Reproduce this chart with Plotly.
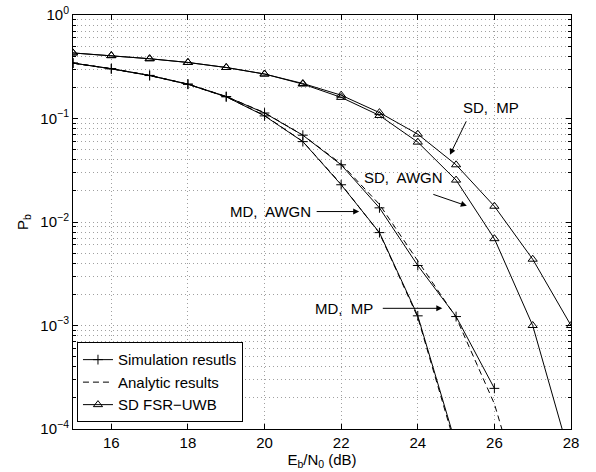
import plotly.graph_objects as go

# ---------------- data ----------------
ebn0_sd = [15, 16, 17, 18, 19, 20, 21, 22, 23, 24, 25, 26, 27, 28]
sd_mp = [0.43, 0.405, 0.378, 0.348, 0.311, 0.269, 0.218, 0.168, 0.114, 0.0706, 0.0357, 0.0142, 0.00437, 0.001]
sd_awgn = [0.43, 0.405, 0.378, 0.348, 0.311, 0.269, 0.215, 0.160, 0.107, 0.0591, 0.0254, 0.0069, 0.001, 0.00005]

ebn0_md_mp = [15, 16, 17, 18, 19, 20, 21, 22, 23, 24, 25, 26]
md_mp_sim = [0.343, 0.303, 0.261, 0.215, 0.163, 0.113, 0.069, 0.0357, 0.0137, 0.0038, 0.00122, 0.000247]
ebn0_md_awgn = [15, 16, 17, 18, 19, 20, 21, 22, 23, 24, 25]
md_awgn_sim = [0.343, 0.302, 0.260, 0.214, 0.162, 0.106, 0.0598, 0.0229, 0.0079, 0.00124, 0.00007]

ebn0_an = [15, 16, 17, 18, 19, 20, 21, 22, 23, 24, 25, 26, 27]
md_mp_an = [0.343, 0.303, 0.261, 0.215, 0.163, 0.114, 0.069, 0.0365, 0.0148, 0.0042, 0.0012, 0.000175, 0.00001]
md_awgn_an = [0.343, 0.302, 0.260, 0.214, 0.162, 0.107, 0.060, 0.0232, 0.0078, 0.0012, 0.000065, 0.000001, 0.0000001]

xticks = [16, 18, 20, 22, 24, 26, 28]
yticks = [1e-4, 1e-3, 1e-2, 1e-1, 1e0]
ytick_text = ["10<sup>−4</sup>", "10<sup>−3</sup>", "10<sup>−2</sup>", "10<sup>−1</sup>", "10<sup>0</sup>"]

# annotation labels: (text, x, log10 y)
labels = [("SD,  MP", 25.9, -0.892), ("SD,  AWGN", 23.63, -1.574),
          ("MD,  AWGN", 20.15, -1.899), ("MD,  MP", 22.08, -2.834)]
# arrows: (x head, log10 y head, dx tail px, dy tail px)
arrows = [(24.84, -1.351, 17, -35), (25.28, -1.844, -35, -12),
          (22.47, -1.899, -44, 0), (24.64, -2.834, -61, 0)]

FONT = "Liberation Sans, Arial, sans-serif"
BLACK = "black"

fig = go.Figure()

sim_marker = dict(symbol="cross-thin", size=7, line=dict(width=1, color=BLACK), color=BLACK)
tri_marker = dict(symbol="triangle-up-open", size=8, line=dict(width=1, color=BLACK), color=BLACK)

fig.add_trace(go.Scatter(x=ebn0_md_mp, y=md_mp_sim, mode="lines+markers", name="Simulation resutls",
                         line=dict(color=BLACK, width=1), marker=sim_marker, legendrank=1))
fig.add_trace(go.Scatter(x=ebn0_md_awgn, y=md_awgn_sim, mode="lines+markers", showlegend=False,
                         line=dict(color=BLACK, width=1), marker=sim_marker))
fig.add_trace(go.Scatter(x=ebn0_an, y=md_mp_an, mode="lines", name="Analytic results",
                         line=dict(color=BLACK, width=1, dash="6px,4px"), legendrank=2))
fig.add_trace(go.Scatter(x=ebn0_an, y=md_awgn_an, mode="lines", showlegend=False,
                         line=dict(color=BLACK, width=1, dash="6px,4px")))
fig.add_trace(go.Scatter(x=ebn0_sd, y=sd_mp, mode="lines+markers", name="SD FSR−UWB",
                         line=dict(color=BLACK, width=1), marker=tri_marker, legendrank=3))
fig.add_trace(go.Scatter(x=ebn0_sd, y=sd_awgn, mode="lines+markers", showlegend=False,
                         line=dict(color=BLACK, width=1), marker=tri_marker))

annotations = []
for t, x, ly in labels:
    annotations.append(dict(x=x, y=ly, xref="x", yref="y", text=t, showarrow=False,
                            font=dict(family=FONT, size=15, color=BLACK)))
for x, ly, dx, dy in arrows:
    annotations.append(dict(x=x, y=ly, xref="x", yref="y", text="", showarrow=True,
                            ax=dx, ay=dy, arrowhead=2, arrowsize=1.2, arrowwidth=1, arrowcolor=BLACK))

grid_col = "#a0a0a0"
grid_dash = "1px,3px"
fig.update_layout(
    width=596, height=472,
    margin=dict(l=73, r=25, t=15, b=43),
    paper_bgcolor="white", plot_bgcolor="white",
    font=dict(family=FONT, size=15, color=BLACK),
    showlegend=True,
    legend=dict(x=0.008, y=0.016, xanchor="left", yanchor="bottom",
                bordercolor=BLACK, borderwidth=1, bgcolor="white",
                font=dict(family=FONT, size=15, color=BLACK),
                tracegroupgap=0, itemwidth=30),
    annotations=annotations,
    xaxis=dict(range=[15, 28], tickvals=xticks, ticks="inside", ticklen=5, tickcolor=BLACK,
               showline=True, linecolor=BLACK, linewidth=1, mirror="ticks", automargin=False,
               showgrid=True, gridcolor=grid_col, griddash=grid_dash, gridwidth=1, zeroline=False,
               title=dict(text="E<sub>b</sub>/N<sub>0</sub> (dB)", standoff=0,
                          font=dict(family=FONT, size=15))),
    yaxis=dict(type="log", range=[-4, 0], tickvals=yticks, ticktext=ytick_text,
               ticks="inside", ticklen=5, tickcolor=BLACK, automargin=False,
               showline=True, linecolor=BLACK, linewidth=1, mirror="ticks",
               showgrid=True, gridcolor=grid_col, griddash=grid_dash, gridwidth=1, zeroline=False,
               minor=dict(dtick="D1", ticks="inside", ticklen=3, tickcolor=BLACK,
                          showgrid=True, gridcolor=grid_col, griddash=grid_dash, gridwidth=1),
               title=dict(text="P<sub>b</sub>", standoff=8, font=dict(family=FONT, size=15))),
)

# remove the default 8px page margin so the figure fills the 596x472 window exactly
fig.write_html("out.html", post_script="document.body.style.margin='0';",
               config={"displayModeBar": False})
